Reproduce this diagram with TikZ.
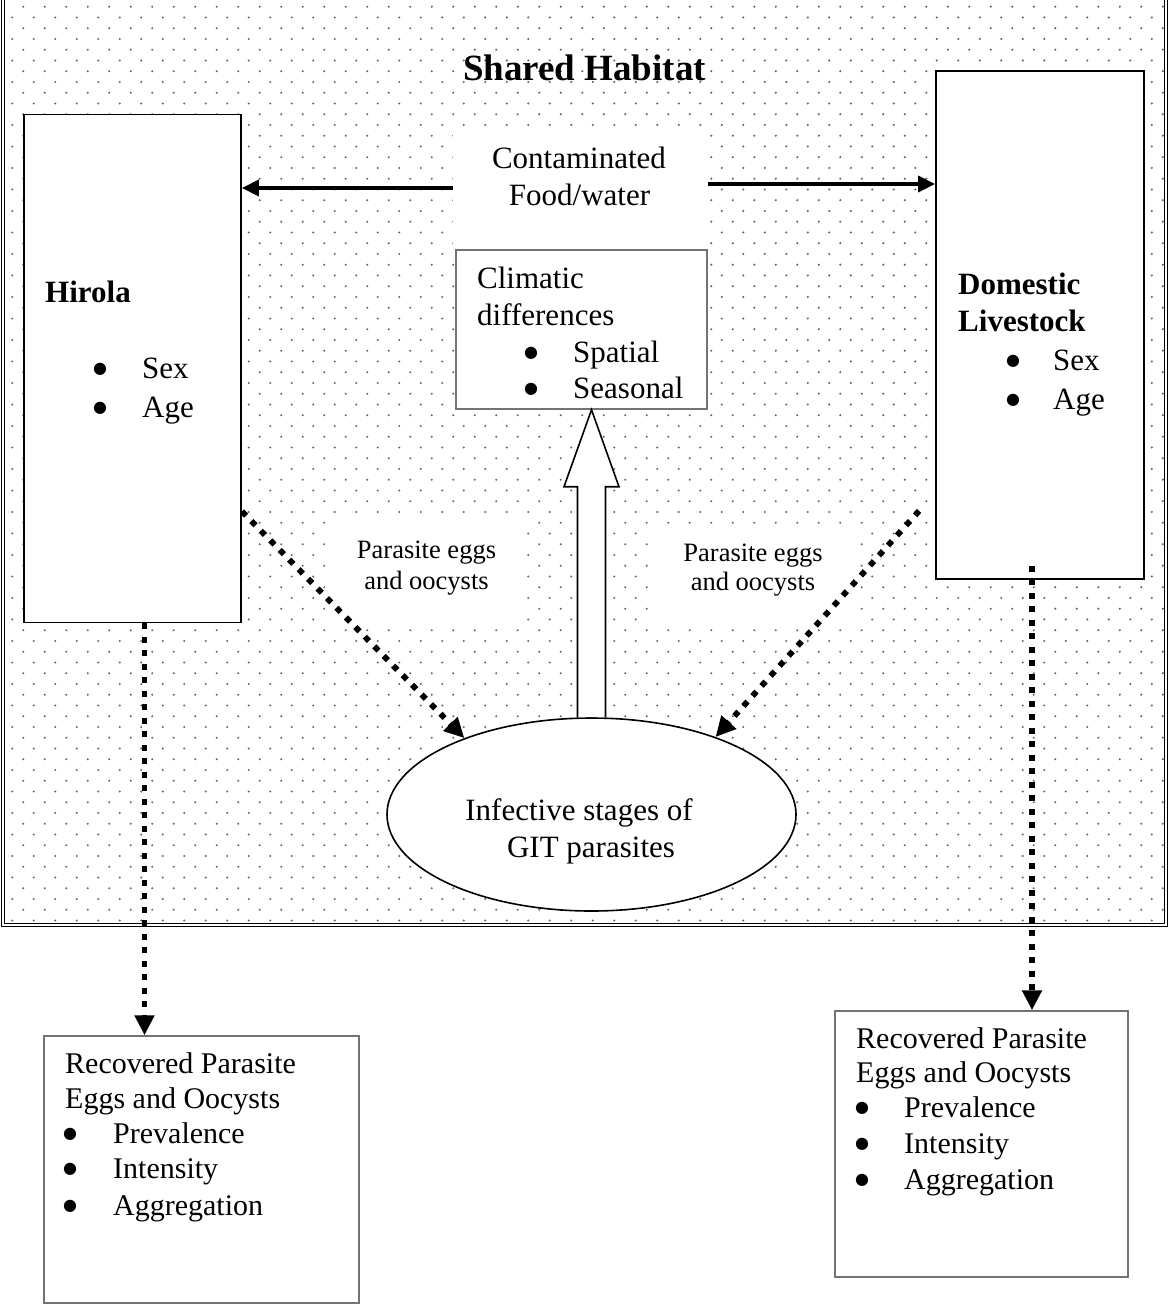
\documentclass[tikz,border=0pt]{standalone}
\usepackage{fontspec}
\setmainfont{Liberation Serif}
\newfontfamily\bulfont{DejaVu Sans}
\usetikzlibrary{arrows.meta,shapes.geometric,calc}
\begin{document}
\begin{tikzpicture}[x=1pt,y=-1pt,
  boxk/.style={draw=black, line width=1.8pt, fill=white, inner sep=0pt, rectangle},
  boxg/.style={draw=black!55, line width=1.5pt, fill=white, inner sep=0pt, rectangle},
  blank/.style={fill=white, draw=none, inner sep=0pt, rectangle},
  txt/.style={inner sep=0pt, anchor=base west, font=\fontsize{31}{36}\selectfont},
  txtb/.style={inner sep=0pt, anchor=base west, font=\fontsize{31}{36}\selectfont\bfseries},
  txtc/.style={inner sep=0pt, anchor=base, font=\fontsize{31}{36}\selectfont},
  txts/.style={inner sep=0pt, anchor=base, font=\fontsize{26.5}{31}\selectfont},
  txtr/.style={inner sep=0pt, anchor=base west, font=\fontsize{30}{35}\selectfont},
  bul/.style={inner sep=0pt, anchor=base, yshift=5pt, font=\bulfont\fontsize{16}{16}\selectfont},
  fat/.style={line width=3.5pt, -{Triangle[length=17pt,width=16pt]}},
  dotar/.style={line width=5.8pt, dash pattern=on 6pt off 7.5pt, -{Triangle[length=20pt,width=19pt]}},
  hollow/.style={draw=black, line width=1.6pt, fill=white, line join=miter}
]
\useasboundingbox (0,0) rectangle (1169,1310);

% dotted background of the shared habitat
\foreach \r [evaluate=\r as \yy using 6.7+10.75*\r,
             evaluate=\r as \xo using {ifthenelse(mod(\r,2)==0,23.3,12.3)}] in {0,...,85} {
   \fill[black!60] \foreach \c in {0,...,53} { (\xo+21.5*\c, \yy) circle (1.15) };
}

% outer frame
\draw[double, double distance=1.6pt, line width=0.9pt] (3,-6) rectangle (1166,925);

% white areas
\node[blank, minimum width=255pt, minimum height=120pt] (contamarea) at (580.5,190) {};
\node[blank, minimum width=202pt, minimum height=107pt] (lblLarea) at (426,570.5) {};
\node[blank, minimum width=206pt, minimum height=96pt] (lblRarea) at (754.5,576) {};

% boxes
\node[boxk, minimum width=217pt, minimum height=508pt] (hirola) at (132.5,368.5) {};
\node[boxk, minimum width=208pt, minimum height=508pt] (livestock) at (1040,325) {};
\node[boxg, minimum width=251pt, minimum height=159pt] (climatic) at (581.5,329.5) {};
\node[ellipse, draw=black, line width=1.6pt, fill=white, inner sep=0pt,
      minimum width=409pt, minimum height=193pt] (infect) at (591.5,814.5) {};
\node[boxg, minimum width=315pt, minimum height=267pt] (recL) at (201.5,1169.5) {};
\node[boxg, minimum width=293pt, minimum height=266pt] (recR) at (981.5,1144) {};

% title
\node[inner sep=0pt, anchor=base, font=\fontsize{37}{42}\selectfont\bfseries] (title) at (584.5,80) {Shared Habitat};

% Hirola
\node[txtb] (hirT) at (45,302) {Hirola};
\node[bul] (hirB1) at (100,378) {●};
\node[txt] (hirS) at (142,378) {Sex};
\node[bul] (hirB2) at (100,417) {●};
\node[txt] (hirA) at (142,417) {Age};

% Domestic livestock
\node[txtb] (livT1) at (958,294) {Domestic};
\node[txtb] (livT2) at (958,331) {Livestock};
\node[bul] (livB1) at (1013,370) {●};
\node[txt] (livS) at (1053,370) {Sex};
\node[bul] (livB2) at (1013,409) {●};
\node[txt] (livA) at (1053,409) {Age};

% contaminated food/water
\node[txtc] (con1) at (579,168) {Contaminated};
\node[txtc] (con2) at (579.5,205) {Food/water};

% climatic differences
\node[txt] (cli1) at (477,288) {Climatic};
\node[txt] (cli2) at (477,325) {differences};
\node[bul] (cliB1) at (531,362) {●};
\node[txt] (cliS) at (573,362) {Spatial};
\node[bul] (cliB2) at (531,398) {●};
\node[txt] (cliSe) at (573,398) {Seasonal};

% parasite eggs labels
\node[txts] (pl1) at (426.5,558) {Parasite eggs};
\node[txts] (pl2) at (426.5,589) {and oocysts};
\node[txts] (pr1) at (753,561) {Parasite eggs};
\node[txts] (pr2) at (753,590) {and oocysts};

% infective stages
\node[txtc] (inf1) at (579,820) {Infective stages of};
\node[txtc] (inf2) at (591,857) {GIT parasites};

% recovered boxes text
\node[txtr] (rl1) at (65,1073) {Recovered Parasite};
\node[txtr] (rl2) at (65,1108) {Eggs and Oocysts};
\node[bul] (rlb1) at (70,1143) {●};
\node[txtr] (rlp) at (113,1143) {Prevalence};
\node[bul] (rlb2) at (70,1178) {●};
\node[txtr] (rli) at (113,1178) {Intensity};
\node[bul] (rlb3) at (70,1215) {●};
\node[txtr] (rla) at (113,1215) {Aggregation};

\node[txtr] (rr1) at (856,1048) {Recovered Parasite};
\node[txtr] (rr2) at (856,1082) {Eggs and Oocysts};
\node[bul] (rrb1) at (862,1117) {●};
\node[txtr] (rrp) at (904,1117) {Prevalence};
\node[bul] (rrb2) at (862,1153) {●};
\node[txtr] (rri) at (904,1153) {Intensity};
\node[bul] (rrb3) at (862,1189) {●};
\node[txtr] (rra) at (904,1189) {Aggregation};

% food/water arrows
\coordinate (la) at ($(contamarea.west)+(0,-2)$);
\coordinate (ra) at ($(contamarea.east)+(0,-6)$);
\draw[fat] (la) -- (la -| hirola.east);
\draw[fat] (ra) -- (ra -| livestock.west);

% hollow arrow from infective stages to climatic differences
\coordinate (hb) at (infect.north);
\coordinate (ht) at (infect.north |- climatic.south);
\draw[hollow] ($(hb)+(-14,0)$) -- ($(ht)+(-14,77)$) -- ($(ht)+(-27.5,77)$) -- (ht)
   -- ($(ht)+(27.5,77)$) -- ($(ht)+(14,77)$) -- ($(hb)+(14,0)$);

% dotted arrows
\draw[dotar] ($(hirola.south east)+(0,-112)$) -- (infect.149);
\draw[dotar] ($(livestock.south west)+(-16,-69)$) -- (infect.32);
\coordinate (hs) at ($(hirola.south)+(12,0)$);
\draw[dotar] (hs) -- (hs |- recL.north);
\coordinate (ls) at ($(livestock.south)+(-8,-14)$);
\draw[dotar] (ls) -- (ls |- recR.north);
\end{tikzpicture}
\end{document}
